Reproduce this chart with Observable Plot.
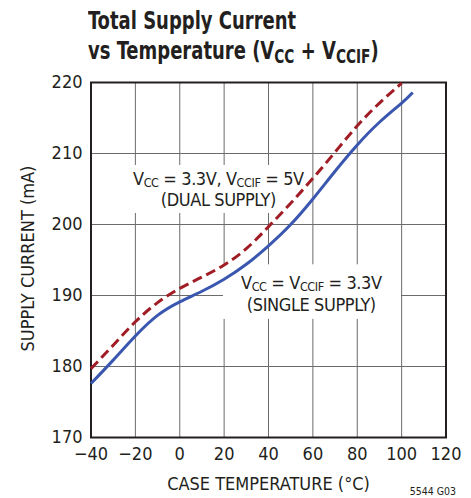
<!DOCTYPE html>
<html>
<head>
<meta charset="utf-8">
<script src="https://cdn.jsdelivr.net/npm/d3@7"></script>
<script src="https://cdn.jsdelivr.net/npm/@observablehq/plot@0.6"></script>
<style>
  html, body { margin: 0; padding: 0; background: #fff; }
  body { width: 471px; height: 498px; overflow: hidden; font-family: "DejaVu Sans Condensed", "Liberation Sans Narrow", Roboto, sans-serif; }
  #title { position: relative; height: 72px; }
  #title .t { position: absolute; left: 88px; top: 6px; font-weight: bold; font-size: 25px; line-height: 30px; color: #231f20; white-space: nowrap; transform: scaleX(0.8); transform-origin: 0 0; }
  #title .sub { font-size: 19px; position: relative; top: 4px; }
  #chart svg { display: block; }
</style>
</head>
<body>
<div id="title"><div class="t">Total Supply Current<br>vs Temperature (V<span class="sub">CC</span> + V<span class="sub">CCIF</span>)</div></div>
<div id="chart"></div>
<script>
// ---- data ----
const singleTemp = [-40, -30, -20, -10, 0, 10, 20, 30, 40, 50, 60, 70, 80, 90, 100, 105];
const singleCurrent = [177.6, 180.9, 184.3, 187.2, 189.1, 190.6, 192.3, 194.4, 197.0, 200.0, 203.6, 207.5, 211.2, 214.4, 217.1, 218.6];
const dualTemp = [-40, -30, -20, -10, 0, 10, 20, 30, 40, 50, 60, 70, 80, 90, 100];
const dualCurrent = [179.7, 183.0, 186.3, 189.0, 191.0, 192.6, 194.3, 196.6, 199.7, 203.0, 206.5, 210.2, 213.9, 217.1, 219.9];
const xTicks = [-40, -20, 0, 20, 40, 60, 80, 100, 120];
const yTicks = [170, 180, 190, 200, 210, 220];
const dualLabel = ["V_CC = 3.3V, V_CCIF = 5V", "(DUAL SUPPLY)"];
const singleLabel = ["V_CC = V_CCIF = 3.3V", "(SINGLE SUPPLY)"];
const xLabel = "CASE TEMPERATURE (°C)";
const yLabel = "SUPPLY CURRENT (mA)";
const figureCode = "5544 G03";

// annotation anchors (data coordinates)
const dualAnchor = {x: 17.4, y: [205.57, 202.61]};
const singleAnchor = {x: 59.3, y: [190.87, 187.83]};

const single = singleTemp.map((t, i) => ({t, v: singleCurrent[i]}));
const dual = dualTemp.map((t, i) => ({t, v: dualCurrent[i]}));
const dualRows = dualLabel.map((s, i) => ({s, t: dualAnchor.x, v: dualAnchor.y[i]}));
const singleRows = singleLabel.map((s, i) => ({s, t: singleAnchor.x, v: singleAnchor.y[i]}));

const FONT = '"DejaVu Sans Condensed", "Liberation Sans Narrow", Roboto, sans-serif';
const ink = "#231f20";
const gridColor = "#6b6b6b";
const blue = "#3a57b0";
const red = "#a11d25";

const chart = Plot.plot({
  width: 471,
  height: 426,
  marginTop: 10,
  marginBottom: 61,
  marginLeft: 90.5,
  marginRight: 25.5,
  style: {fontFamily: FONT, fontSize: "18px", color: ink, background: "#fff"},
  x: {domain: [-40, 120], ticks: xTicks, tickSize: 0, tickPadding: 10, label: null},
  y: {domain: [170, 220], ticks: yTicks, tickSize: 0, tickPadding: 8.5, label: null},
  marks: [
    Plot.ruleX(xTicks.filter(d => d > -40 && d < 120), {stroke: gridColor, strokeWidth: 1}),
    Plot.ruleY(yTicks.filter(d => d > 170 && d < 220), {stroke: gridColor, strokeWidth: 1}),
    Plot.frame({stroke: ink, strokeWidth: 2}),
    Plot.line(single, {x: "t", y: "v", stroke: blue, strokeWidth: 3, curve: "natural", strokeLinecap: "butt"}),
    Plot.line(dual, {x: "t", y: "v", stroke: red, strokeWidth: 3, curve: "natural", strokeDasharray: "10,5", strokeLinecap: "butt"}),
    Plot.text(dualRows, {x: "t", y: "v", text: "s", lineAnchor: "bottom", textAnchor: "middle", fontSize: 18, fill: ink}),
    Plot.text(singleRows, {x: "t", y: "v", text: "s", lineAnchor: "bottom", textAnchor: "middle", fontSize: 18, fill: ink}),
    Plot.text([xLabel], {frameAnchor: "bottom", lineAnchor: "bottom", textAnchor: "middle", dy: 52, fontSize: 18, fill: ink}),
    Plot.text([yLabel], {frameAnchor: "left", lineAnchor: "bottom", textAnchor: "middle", rotate: -90, dx: -57, dy: -1.5, fontSize: 18, fill: ink}),
    Plot.text([figureCode], {frameAnchor: "bottom-right", lineAnchor: "bottom", textAnchor: "end", dx: 10, dy: 57, fontSize: 10.5, fill: ink})
  ]
});
document.getElementById("chart").appendChild(chart);

// subscripts: "V_CC" -> V + lowered smaller CC
const NS = "http://www.w3.org/2000/svg";
function subscriptify(textEl) {
  const raw = textEl.textContent;
  const parts = raw.split(/(_[A-Z]+)/).filter(p => p.length);
  while (textEl.firstChild) textEl.removeChild(textEl.firstChild);
  let lowered = false;
  for (const p of parts) {
    const ts = document.createElementNS(NS, "tspan");
    if (p.startsWith("_")) {
      ts.textContent = p.slice(1);
      ts.setAttribute("font-size", "12.5");
      ts.setAttribute("dy", lowered ? "0" : "2");
      lowered = true;
    } else {
      ts.textContent = p;
      if (lowered) { ts.setAttribute("dy", "-2"); lowered = false; }
    }
    textEl.appendChild(ts);
  }
  textEl.setAttribute("letter-spacing", "-0.4");
}

const textGroups = chart.querySelectorAll('g[aria-label="text"]');
const annGroups = [textGroups[0], textGroups[1]];
const pads = [[6, 4, 3, 3], [18, 19, 8, 4]];
const firstLine = chart.querySelector('g[aria-label="line"]');
annGroups.forEach((g, k) => {
  if (!g) return;
  let x0 = Infinity, y0 = Infinity, x1 = -Infinity, y1 = -Infinity;
  const svgInv = chart.getScreenCTM().inverse();
  g.querySelectorAll("text").forEach(t => {
    subscriptify(t);
    const b = t.getBBox();
    const m = svgInv.multiply(t.getScreenCTM());
    const pt = chart.createSVGPoint();
    for (const [px, py] of [[b.x, b.y], [b.x + b.width, b.y + b.height]]) {
      pt.x = px; pt.y = py;
      const r = pt.matrixTransform(m);
      x0 = Math.min(x0, r.x); x1 = Math.max(x1, r.x);
      y0 = Math.min(y0, r.y); y1 = Math.max(y1, r.y);
    }
  });
  const [pl, pr, pt2, pb] = pads[k];
  const rect = document.createElementNS(NS, "rect");
  rect.setAttribute("x", x0 - pl);
  rect.setAttribute("y", y0 - pt2);
  rect.setAttribute("width", (x1 - x0) + pl + pr);
  rect.setAttribute("height", (y1 - y0) + pt2 + pb);
  rect.setAttribute("fill", "#fff");
  if (firstLine) firstLine.parentNode.insertBefore(rect, firstLine);
});
</script>
</body>
</html>
